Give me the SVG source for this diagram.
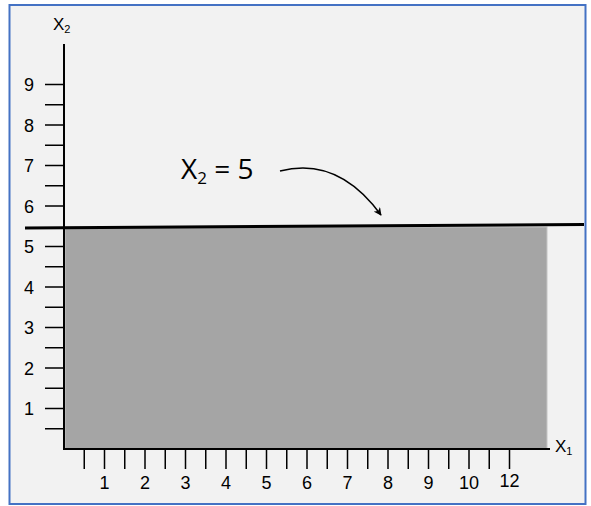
<svg xmlns="http://www.w3.org/2000/svg" width="591" height="506" viewBox="0 0 591 506">
<defs>
<style>
.ax{stroke:#000;stroke-width:2;fill:none}
.tk{stroke:#000;stroke-width:1.5}
.num{font-family:"Liberation Sans",Arial,sans-serif;font-size:18px;fill:#000}
.lab{font-family:"Liberation Sans",Arial,sans-serif;font-size:17px;fill:#000}
.sub{font-size:11px}
.eq{font-family:"Open Sans","Noto Sans",sans-serif;font-size:28px;fill:#000}
</style>
<marker id="ah" viewBox="0 0 10 10" refX="9" refY="5" markerWidth="8" markerHeight="8" orient="auto" markerUnits="userSpaceOnUse">
<path d="M0,0 L10,5 L0,10 L3,5 Z" fill="#000"/>
</marker>
</defs>
<rect x="9.5" y="5" width="576" height="499" fill="#f2f2f2" stroke="#4472c4" stroke-width="2"/>
<g id="feasible-region">
<rect x="65" y="227" width="482" height="222" fill="#a5a5a5" stroke="#c4c4c4" stroke-width="1"/>
</g>
<g id="axes">
<line class="ax" x1="64" y1="44" x2="64" y2="449"/>
<line class="ax" x1="63" y1="449" x2="550" y2="449"/>
<text class="lab" x="53" y="30">X<tspan class="sub" dy="3">2</tspan></text>
<text class="lab" x="555" y="452">X<tspan class="sub" dy="3">1</tspan></text>
</g>
<g id="y-ticks">
<path class="tk" d="M45,408.5H64M45,368H64M45,327.5H64M45,287H64M45,246.5H64M45,206H64M45,165.5H64M45,125H64M45,84.5H64M45,428.75H64M45,388.25H64M45,347.75H64M45,307.25H64M45,266.75H64M45,185.75H64M45,145.25H64M45,104.75H64"/>
<g class="num" text-anchor="middle">
<text x="29" y="415">1</text>
<text x="29" y="374.5">2</text>
<text x="29" y="334">3</text>
<text x="29" y="293.5">4</text>
<text x="29" y="253">5</text>
<text x="29" y="212.5">6</text>
<text x="29" y="172">7</text>
<text x="29" y="131.5">8</text>
<text x="29" y="91">9</text>
</g>
</g>
<g id="x-ticks">
<path class="tk" d="M84.25,449V469M104.5,449V469M124.75,449V469M145,449V469M165.25,449V469M185.5,449V469M205.75,449V469M226,449V469M246.25,449V469M266.5,449V469M286.75,449V469M307,449V469M327.25,449V469M347.5,449V469M367.75,449V469M388,449V469M408.25,449V469M428.5,449V469M448.75,449V469M469,449V469M489.25,449V469M509.5,449V469"/>
<g class="num" text-anchor="middle">
<text x="104.5" y="488.5">1</text>
<text x="145" y="488.5">2</text>
<text x="185.5" y="488.5">3</text>
<text x="226" y="488.5">4</text>
<text x="266.5" y="488.5">5</text>
<text x="307" y="488.5">6</text>
<text x="347.5" y="488.5">7</text>
<text x="388" y="488.5">8</text>
<text x="428.5" y="488.5">9</text>
<text x="469" y="488.5">10</text>
<text x="509.5" y="486.5">12</text>
</g>
</g>
<g id="constraint-line">
<line x1="25" y1="228" x2="584" y2="224.5" stroke="#000" stroke-width="3"/>
</g>
<g id="constraint-label">
<text class="eq" x="181" y="179">X<tspan font-size="17" dy="5">2</tspan><tspan dy="-5"> = 5</tspan></text>
</g>
<g id="connectors">
<path d="M280,171 Q338,156 381,215" fill="none" stroke="#000" stroke-width="1.5" marker-end="url(#ah)"/>
</g>
</svg>
